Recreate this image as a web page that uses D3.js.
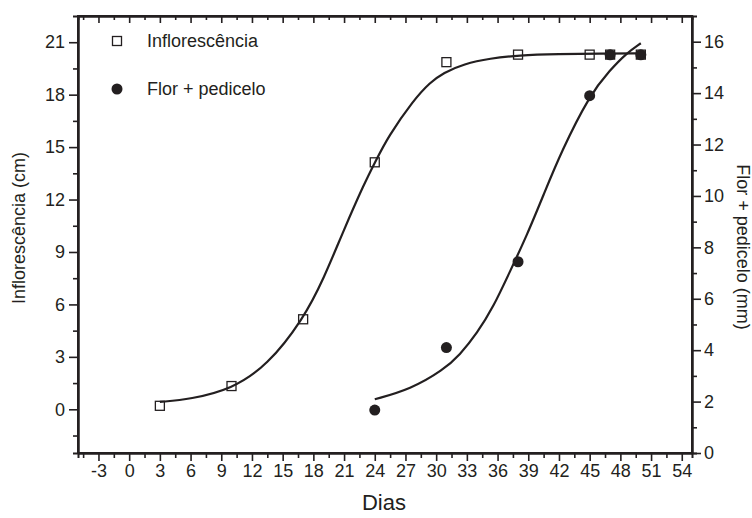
<!DOCTYPE html>
<html>
<head>
<meta charset="utf-8">
<script src="https://cdn.jsdelivr.net/npm/d3@7"></script>
<style>
  body { margin: 0; background: #fff; }
  svg { display: block; font-family: "Liberation Sans", Arial, sans-serif; }
  .axis path, .axis line { stroke: #231f20; }
  .axis text { fill: #231f20; font-size: 18px; }
</style>
</head>
<body>
<div id="chart"></div>
<script>
var width = 752;
var height = 518;
var margin = { top: 16, right: 60, bottom: 65, left: 78 };

// medidas (dias)
var diasInfl = [3, 10, 17, 24, 31, 38, 45, 47, 50];
var inflorescencia = [0.2, 1.33, 5.15, 14.13, 19.86, 20.29, 20.29, 20.29, 20.29];
var diasFlor = [24, 31, 38, 45, 47, 50];
var florPedicelo = [1.67, 4.1, 7.44, 13.9, 15.49, 15.49];

// curvas ajustadas
var ajusteInflX = [3, 6, 10, 13.5, 17, 19, 21, 23, 24, 25.3, 27.8, 29.4, 30.7, 32.7, 35.3, 38, 42, 46, 50];
var ajusteInflY = [0.42, 0.58, 1.15, 2.5, 5.15, 7.45, 10.3, 12.95, 14.1, 15.6, 17.7, 18.7, 19.25, 19.76, 20.08, 20.25, 20.32, 20.35, 20.36];
var ajusteFlorX = [24, 27.5, 30.7, 32.3, 34, 35.6, 37.2, 38.9, 40.5, 42.2, 45, 47, 48.6, 50];
var ajusteFlorY = [2.09, 2.48, 3.23, 3.81, 4.66, 5.69, 7.05, 8.5, 10.05, 11.7, 13.93, 14.9, 15.55, 15.94];

var xTicks = d3.range(-3, 55, 3);
var yLeftTicks = d3.range(0, 22, 3);
var yRightTicks = d3.range(0, 17, 2);

var x0 = margin.left, x1 = width - margin.right;
var y0 = height - margin.bottom, y1 = margin.top;

var x = d3.scaleLinear().domain([-5, 55]).range([x0, x1]);
var yL = d3.scaleLinear().domain([-2.5, 22.5]).range([y0, y1]);
var yR = d3.scaleLinear().domain([0, 17]).range([y0, y1]);

var fmt = function(d) { return String(d); };

var svg = d3.select('#chart')
    .append('svg')
    .attr('width', width)
    .attr('height', height);

// minor ticks
function minor(axisGen, vals, len) {
    return axisGen.tickValues(vals).tickSize(len).tickFormat('');
}

var xMinor = d3.range(-4.5, 55, 3);
var yLMinor = d3.range(-1.5, 22.5, 3);
var yRMinor = d3.range(1, 17, 2);

svg.append('g').attr('class', 'axis')
    .attr('transform', 'translate(0,' + y0 + ')')
    .call(minor(d3.axisBottom(x), xMinor, 5));
svg.append('g').attr('class', 'axis')
    .attr('transform', 'translate(0,' + y1 + ')')
    .call(minor(d3.axisBottom(x), xMinor, 4));
svg.append('g').attr('class', 'axis')
    .attr('transform', 'translate(' + x0 + ',0)')
    .call(minor(d3.axisLeft(yL), yLMinor, 5));
svg.append('g').attr('class', 'axis')
    .attr('transform', 'translate(' + x1 + ',0)')
    .call(minor(d3.axisRight(yR), yRMinor, 5));

svg.append('g').attr('class', 'axis')
    .attr('transform', 'translate(0,' + y0 + ')')
    .call(d3.axisBottom(x).tickValues(xTicks).tickFormat(fmt).tickSize(8).tickPadding(3).tickSizeOuter(0));
svg.append('g').attr('class', 'axis')
    .attr('transform', 'translate(0,' + y1 + ')')
    .call(d3.axisBottom(x).tickValues(xTicks).tickSize(7).tickFormat('').tickSizeOuter(0));
svg.append('g').attr('class', 'axis')
    .attr('transform', 'translate(' + x0 + ',0)')
    .call(d3.axisLeft(yL).tickValues(yLeftTicks).tickFormat(fmt).tickSize(9).tickPadding(4).tickSizeOuter(0));
svg.append('g').attr('class', 'axis')
    .attr('transform', 'translate(' + x1 + ',0)')
    .call(d3.axisRight(yR).tickValues(yRightTicks).tickFormat(fmt).tickSize(9).tickPadding(3).tickSizeOuter(0));

svg.selectAll('.axis line').attr('stroke-width', 1.6);
svg.selectAll('.axis path').attr('stroke-width', 2);

// frame
svg.append('rect')
    .attr('x', x0).attr('y', y1)
    .attr('width', x1 - x0).attr('height', y0 - y1)
    .attr('fill', 'none')
    .attr('stroke', '#231f20')
    .attr('stroke-width', 2);

// titles
svg.append('text')
    .attr('x', (x0 + x1) / 2 - 1)
    .attr('y', 510)
    .attr('text-anchor', 'middle')
    .attr('font-size', 22)
    .attr('fill', '#231f20')
    .text('Dias');

svg.append('text')
    .attr('transform', 'translate(25,228) rotate(-90)')
    .attr('text-anchor', 'middle')
    .attr('font-size', 18)
    .attr('fill', '#231f20')
    .text('Inflorescência (cm)');

svg.append('text')
    .attr('transform', 'translate(737,247) rotate(90)')
    .attr('text-anchor', 'middle')
    .attr('font-size', 18)
    .attr('fill', '#231f20')
    .text('Flor + pedicelo (mm)');

// fitted curves
var lineL = d3.line()
    .x(function(d) { return x(d[0]); })
    .y(function(d) { return yL(d[1]); })
    .curve(d3.curveBasis);
var lineR = d3.line()
    .x(function(d) { return x(d[0]); })
    .y(function(d) { return yR(d[1]); })
    .curve(d3.curveBasis);

svg.append('path')
    .datum(d3.zip(ajusteInflX, ajusteInflY))
    .attr('d', lineL)
    .attr('fill', 'none')
    .attr('stroke', '#231f20')
    .attr('stroke-width', 2.2);

svg.append('path')
    .datum(d3.zip(ajusteFlorX, ajusteFlorY))
    .attr('d', lineR)
    .attr('fill', 'none')
    .attr('stroke', '#231f20')
    .attr('stroke-width', 2.2);

// points
var sq = 9;
svg.selectAll('.sq')
    .data(d3.zip(diasInfl, inflorescencia))
    .enter()
    .append('rect')
    .attr('class', 'sq')
    .attr('x', function(d) { return x(d[0]) - sq / 2; })
    .attr('y', function(d) { return yL(d[1]) - sq / 2; })
    .attr('width', sq)
    .attr('height', sq)
    .attr('fill', 'none')
    .attr('stroke', '#231f20')
    .attr('stroke-width', 1.3);

svg.selectAll('.ci')
    .data(d3.zip(diasFlor, florPedicelo))
    .enter()
    .append('circle')
    .attr('class', 'ci')
    .attr('cx', function(d) { return x(d[0]); })
    .attr('cy', function(d) { return yR(d[1]); })
    .attr('r', 5.5)
    .attr('fill', '#231f20');

// legend
var legend = svg.append('g').attr('font-size', 18).attr('fill', '#231f20');
legend.append('rect')
    .attr('x', 117 - sq / 2).attr('y', 41 - sq / 2)
    .attr('width', sq).attr('height', sq)
    .attr('fill', 'none').attr('stroke', '#231f20').attr('stroke-width', 1.3);
legend.append('text').attr('x', 147).attr('y', 47).text('Inflorescência');
legend.append('circle').attr('cx', 117).attr('cy', 89).attr('r', 5.5).attr('fill', '#231f20');
legend.append('text').attr('x', 147).attr('y', 95).text('Flor + pedicelo');
</script>
</body>
</html>
